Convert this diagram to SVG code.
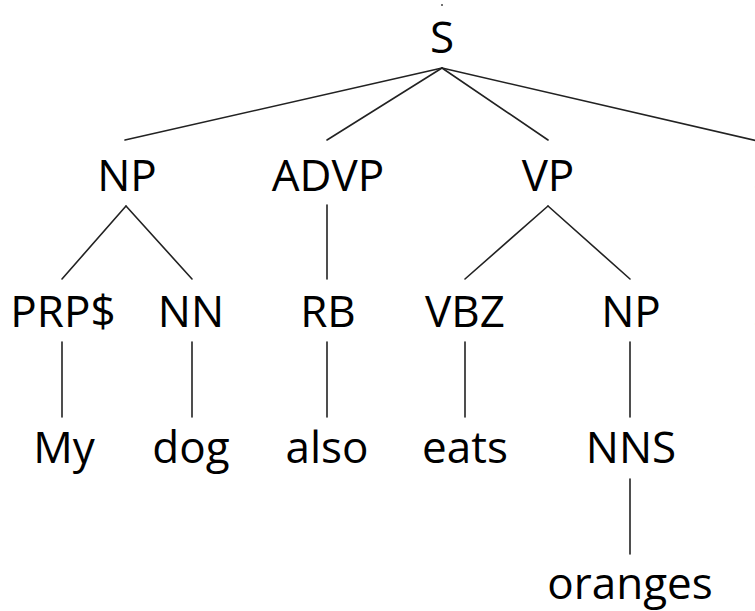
<svg xmlns="http://www.w3.org/2000/svg" width="755" height="611" viewBox="0 0 755 611">
<style>
text{font-family:"Open Sans","DejaVu Sans",sans-serif;font-size:44px;fill:#000;text-anchor:middle}
.e line{stroke:#222;stroke-width:1.6;stroke-linecap:round}
</style>
<rect width="755" height="611" fill="#fff"/>
<circle cx="442" cy="5" r="1" fill="#444"/>
<g class="e" id="edges">
<line x1="442" y1="68" x2="125" y2="140"/>
<line x1="442" y1="68" x2="327" y2="140"/>
<line x1="442" y1="68" x2="548" y2="140"/>
<line x1="442" y1="68" x2="762" y2="142"/>
<line x1="126" y1="206" x2="62" y2="279"/>
<line x1="126" y1="206" x2="192" y2="279"/>
<line x1="327" y1="205" x2="327" y2="279"/>
<line x1="548" y1="206" x2="465" y2="279"/>
<line x1="548" y1="206" x2="630" y2="279"/>
<line x1="62" y1="342" x2="62" y2="417"/>
<line x1="192" y1="342" x2="192" y2="417"/>
<line x1="327" y1="342" x2="327" y2="417"/>
<line x1="465" y1="342" x2="465" y2="417"/>
<line x1="630" y1="342" x2="630" y2="417"/>
<line x1="630" y1="479" x2="630" y2="554"/>
</g>
<g id="S"><text x="442" y="53">S</text></g>
<g id="NP1"><text x="127" y="191">NP</text></g>
<g id="ADVP"><text x="328" y="191">ADVP</text></g>
<g id="VP"><text x="548" y="191">VP</text></g>
<g id="PUNCT"><text x="758" y="190">.</text></g>
<g id="PRP"><text x="63" y="327">PRP$</text></g>
<g id="NN"><text x="191" y="327">NN</text></g>
<g id="RB"><text x="328" y="327">RB</text></g>
<g id="VBZ"><text x="465" y="327">VBZ</text></g>
<g id="NP2"><text x="631" y="327">NP</text></g>
<g id="PUNCT2"><text x="758" y="327">.</text></g>
<g id="My"><text x="64" y="463">My</text></g>
<g id="dog"><text x="191" y="463">dog</text></g>
<g id="also"><text x="327" y="463">also</text></g>
<g id="eats"><text x="465" y="463">eats</text></g>
<g id="NNS"><text x="631" y="463">NNS</text></g>
<g id="oranges"><text x="630" y="599">oranges</text></g>
</svg>
